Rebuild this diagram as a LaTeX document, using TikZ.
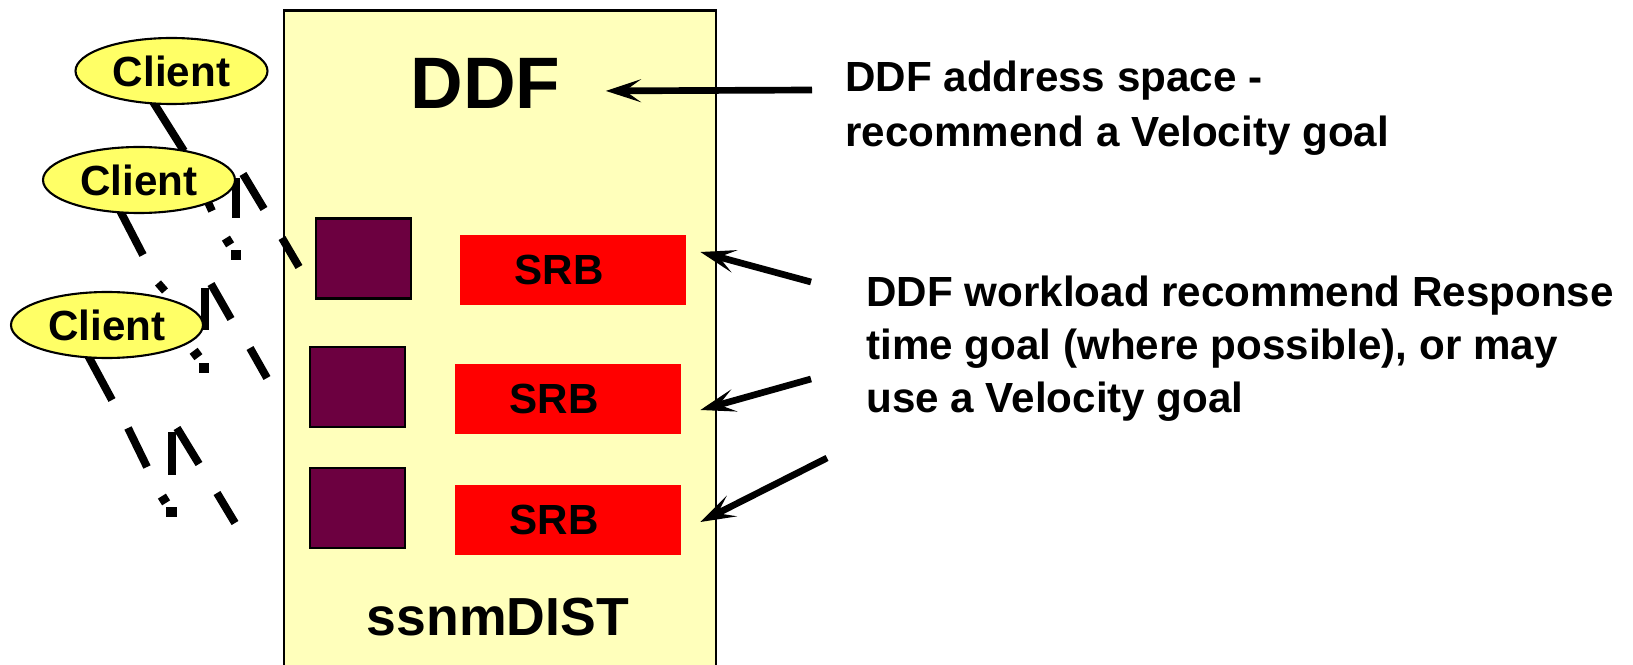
\documentclass[tikz,border=0pt]{standalone}
\usepackage{fontspec}
\setmainfont{Liberation Sans}
\usetikzlibrary{shapes.geometric,arrows.meta}
\definecolor{ddfbg}{RGB}{255,255,187}
\definecolor{clientbg}{RGB}{255,255,102}
\definecolor{thread}{RGB}{108,0,64}
\newcommand{\ppx}{0.02cm}

\begin{document}
\begin{tikzpicture}[x=\ppx,y=-\ppx,>={Stealth[length=20pt,width=13pt,inset=9pt]},
    client/.style={ellipse,draw,line width=1.2pt,fill=clientbg,minimum width=192*\ppx,minimum height=66*\ppx,inner sep=0pt,font=\fontsize{24}{28}\selectfont\bfseries},
    thr/.style={rectangle,draw,line width=1.2pt,fill=thread,minimum width=95*\ppx,minimum height=80*\ppx,inner sep=0pt},
    srb/.style={rectangle,fill=red,minimum width=226*\ppx,minimum height=70*\ppx,inner sep=0pt,font=\fontsize{24}{28}\selectfont\bfseries},
    note/.style={anchor=north west,inner sep=0pt,align=left},
    arr/.style={->,line width=3.8pt},
    frag/.style={line width=4.5pt}]
        \useasboundingbox (0,0) rectangle (1633,665);
        % DDF address space
        \draw[fill=ddfbg,line width=1.2pt] (284,10.5) rectangle (716,690);
        \node[font=\fontsize{41.5}{48}\selectfont\bfseries,inner sep=0pt,anchor=base] (title) at (485.5,109) {DDF};
        \node[font=\fontsize{30.5}{36}\selectfont\bfseries,inner sep=0pt,anchor=base] (dist) at (498,635) {ssnmDIST};
        % broken connector pieces, client 1
        \draw[frag] (150,97)--(184,151);
        \draw[frag] (236,178)--(236,218);
        \draw[frag] (243,174)--(264,209);
        \draw[frag] (207,200)--(212,211);
        \draw[frag] (224,244)--(232,239);
        \fill (231,250) rectangle (241,260);
        \draw[frag] (282,238)--(299,267);
        % client 2
        \draw[frag] (115,201)--(143,255);
        \draw[frag] (205,288)--(205,330);
        \draw[frag] (211,284)--(231,319);
        \draw[frag] (158,283)--(165,291);
        \draw[frag] (192,357)--(200,351);
        \fill (199,363) rectangle (209,373);
        \draw[frag] (250,348)--(267,378);
        % client 3
        \draw[frag] (85,350)--(112,400);
        \draw[frag] (128,428)--(147,467);
        \draw[frag] (172,432)--(172,475);
        \draw[frag] (177,428)--(199,464);
        \draw[frag] (160,502)--(168,497);
        \fill (166,507) rectangle (177,517);
        \draw[frag] (217,493)--(235,523);
        % clients
        \node[client] (c1) at (171.5,71) {Client};
        \node[client] (c2) at (139,180) {Client};
        \node[client] (c3) at (107,325) {Client};
        % threads and SRBs
        \node[thr] (t1) at (363.5,258.5) {};
        \node[thr] (t2) at (357.5,387) {};
        \node[thr] (t3) at (357.5,508) {};
        \node[srb] (s1) at (573,270) {SRB\hspace*{0.56cm}};
        \node[srb] (s2) at (568,399) {SRB\hspace*{0.56cm}};
        \node[srb] (s3) at (568,519.5) {SRB\hspace*{0.56cm}};
        % notes
        \node[note,font=\fontsize{24}{31}\selectfont\bfseries] (addr) at (845,61) {DDF address space -\\recommend a Velocity goal};
        \node[note,font=\fontsize{24}{30}\selectfont\bfseries] (wl) at (866,276) {DDF workload recommend Response\\time goal (where possible), or may\\use a Velocity goal};
        \coordinate (e0) at (812,90);
        \coordinate (e1) at (811,282);
        \coordinate (e2) at (811,379);
        \coordinate (e3) at (827,458);
        \draw[arr] (e0)--([shift={(45,7)}]title.east);
        \draw[arr] (e1)--([shift={(14,-18)}]s1.east);
        \draw[arr] (e2)--([shift={(19,11)}]s2.east);
        \draw[arr] (e3)--([shift={(19,2.5)}]s3.east);
    \end{tikzpicture}
\end{document}
